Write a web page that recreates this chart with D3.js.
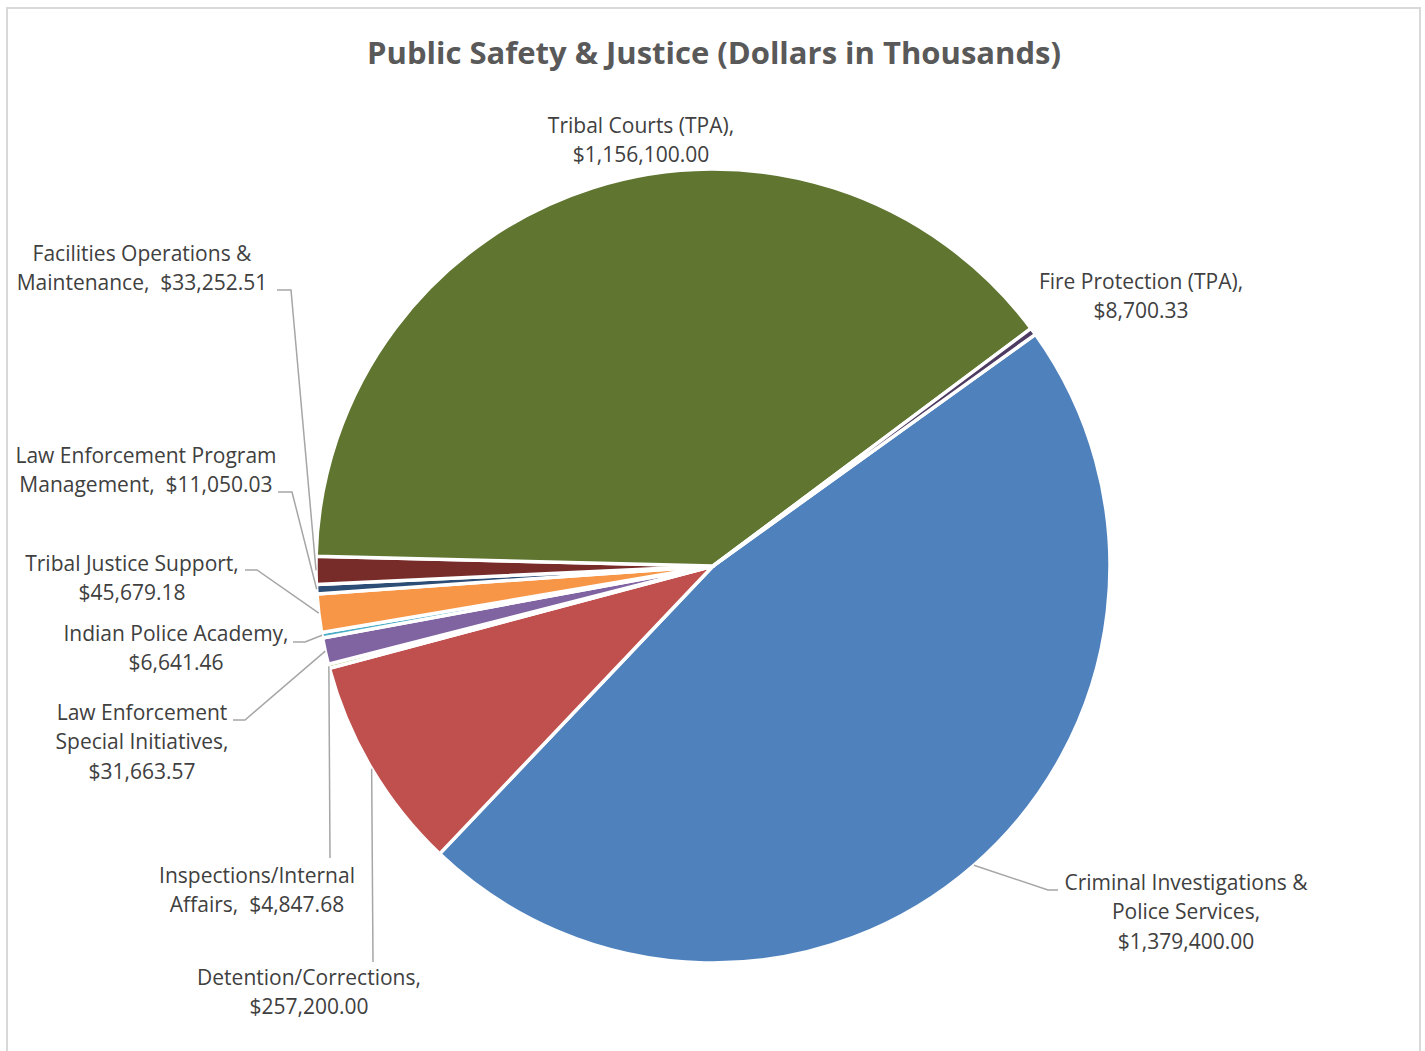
<!DOCTYPE html>
<html lang="en">
<head>
  <meta charset="UTF-8">
  <title>Public Safety & Justice</title>
  <script src="https://d3js.org/d3.v7.min.js"></script>
  <style>
    body {
      margin: 0;
      background-color: #ffffff;
      font-family: "Open Sans", Carlito, Calibri, sans-serif;
    }
    svg text {
      white-space: pre;
    }
  </style>
</head>
<body>
  <div id="chart"></div>

  <script>
    // Data (dollars in thousands), in slice order clockwise
    const categories = [
      'Criminal Investigations & Police Services',
      'Detention/Corrections',
      'Inspections/Internal Affairs',
      'Law Enforcement Special Initiatives',
      'Indian Police Academy',
      'Tribal Justice Support',
      'Law Enforcement Program Management',
      'Facilities Operations & Maintenance',
      'Tribal Courts (TPA)',
      'Fire Protection (TPA)'
    ];
    const values = [1379400.00, 257200.00, 4847.68, 31663.57, 6641.46, 45679.18, 11050.03, 33252.51, 1156100.00, 8700.33];
    const colors = ['#4F81BD', '#C0504D', '#9BBB59', '#8064A2', '#4BACC6', '#F79646', '#2C4D75', '#772C2A', '#5F7530', '#4D3B62'];

    // Label layout: text lines ({v} = formatted value), anchor x, first baseline, leader line
    const labelLines = [
      ['Criminal Investigations &', 'Police Services,', '{v}'],
      ['Detention/Corrections,', '{v}'],
      ['Inspections/Internal', 'Affairs,  {v}'],
      ['Law Enforcement', 'Special Initiatives,', '{v}'],
      ['Indian Police Academy,', '{v}'],
      ['Tribal Justice Support,', '{v}'],
      ['Law Enforcement Program', 'Management,  {v}'],
      ['Facilities Operations &', 'Maintenance,  {v}'],
      ['Tribal Courts (TPA),', '{v}'],
      ['Fire Protection (TPA),', '{v}']
    ];
    const labelX = [1186, 309, 257, 142, 176, 132, 146, 142, 641, 1141];
    const labelY = [890, 985, 883, 720, 641, 571, 463, 261, 133, 289];
    // leader: [elbowX, elbowY, endX] (null = no leader)
    const leaders = [
      [1048, 890, 1058],
      [373, 962, 373],
      [330, 858, 330],
      [245, 720, 233],
      [305, 642, 293],
      [257, 570, 245],
      [292, 492, 278],
      [291, 290, 277],
      null,
      null
    ];

    const W = 1425, H = 1051;
    const cx = 713, cy = 566, radius = 397;
    const startDeg = 54.3;
    const lineH = 29.3;

    const fmt = d3.format('$,.2f');

    const svg = d3.select('#chart')
      .append('svg')
      .attr('width', W)
      .attr('height', H);

    // chart border
    svg.append('rect')
      .attr('x', 7)
      .attr('y', 8)
      .attr('width', 1413)
      .attr('height', 1060)
      .attr('fill', '#ffffff')
      .attr('stroke', '#D9D9D9')
      .attr('stroke-width', 2);

    svg.append('text')
      .attr('x', 714)
      .attr('y', 64)
      .attr('text-anchor', 'middle')
      .attr('font-size', 31)
      .attr('font-weight', 'bold')
      .attr('fill', '#595959')
      .text('Public Safety & Justice (Dollars in Thousands)');

    const data = categories.map((c, i) => ({ name: c, value: values[i], i: i }));

    const pie = d3.pie()
      .sort(null)
      .value(d => d.value)
      .startAngle(startDeg * Math.PI / 180)
      .endAngle(startDeg * Math.PI / 180 + 2 * Math.PI);

    const arc = d3.arc().innerRadius(0).outerRadius(radius);
    const arcs = pie(data);

    const g = svg.append('g')
      .attr('transform', `translate(${cx}, ${cy})`);

    g.selectAll('path.slice')
      .data(arcs)
      .enter()
      .append('path')
      .attr('class', 'slice')
      .attr('d', arc)
      .attr('fill', d => colors[d.data.i])
      .attr('stroke', '#ffffff')
      .attr('stroke-width', 3.5)
      .attr('stroke-linejoin', 'round');

    // leader lines
    arcs.forEach(a => {
      const L = leaders[a.data.i];
      if (!L) return;
      const mid = (a.startAngle + a.endAngle) / 2;
      const px = cx + radius * Math.sin(mid);
      const py = cy - radius * Math.cos(mid);
      svg.append('polyline')
        .attr('points', `${px},${py} ${L[0]},${L[1]} ${L[2]},${L[1]}`)
        .attr('fill', 'none')
        .attr('stroke', '#A6A6A6')
        .attr('stroke-width', 1.5);
    });

    // labels
    data.forEach(d => {
      const t = svg.append('text')
        .attr('text-anchor', 'middle')
        .attr('font-size', 21)
        .attr('fill', '#404040');
      labelLines[d.i].forEach((ln, k) => {
        t.append('tspan')
          .attr('x', labelX[d.i])
          .attr('y', labelY[d.i] + k * lineH)
          .text(ln.replace('{v}', fmt(d.value)));
      });
    });
  </script>
</body>
</html>
